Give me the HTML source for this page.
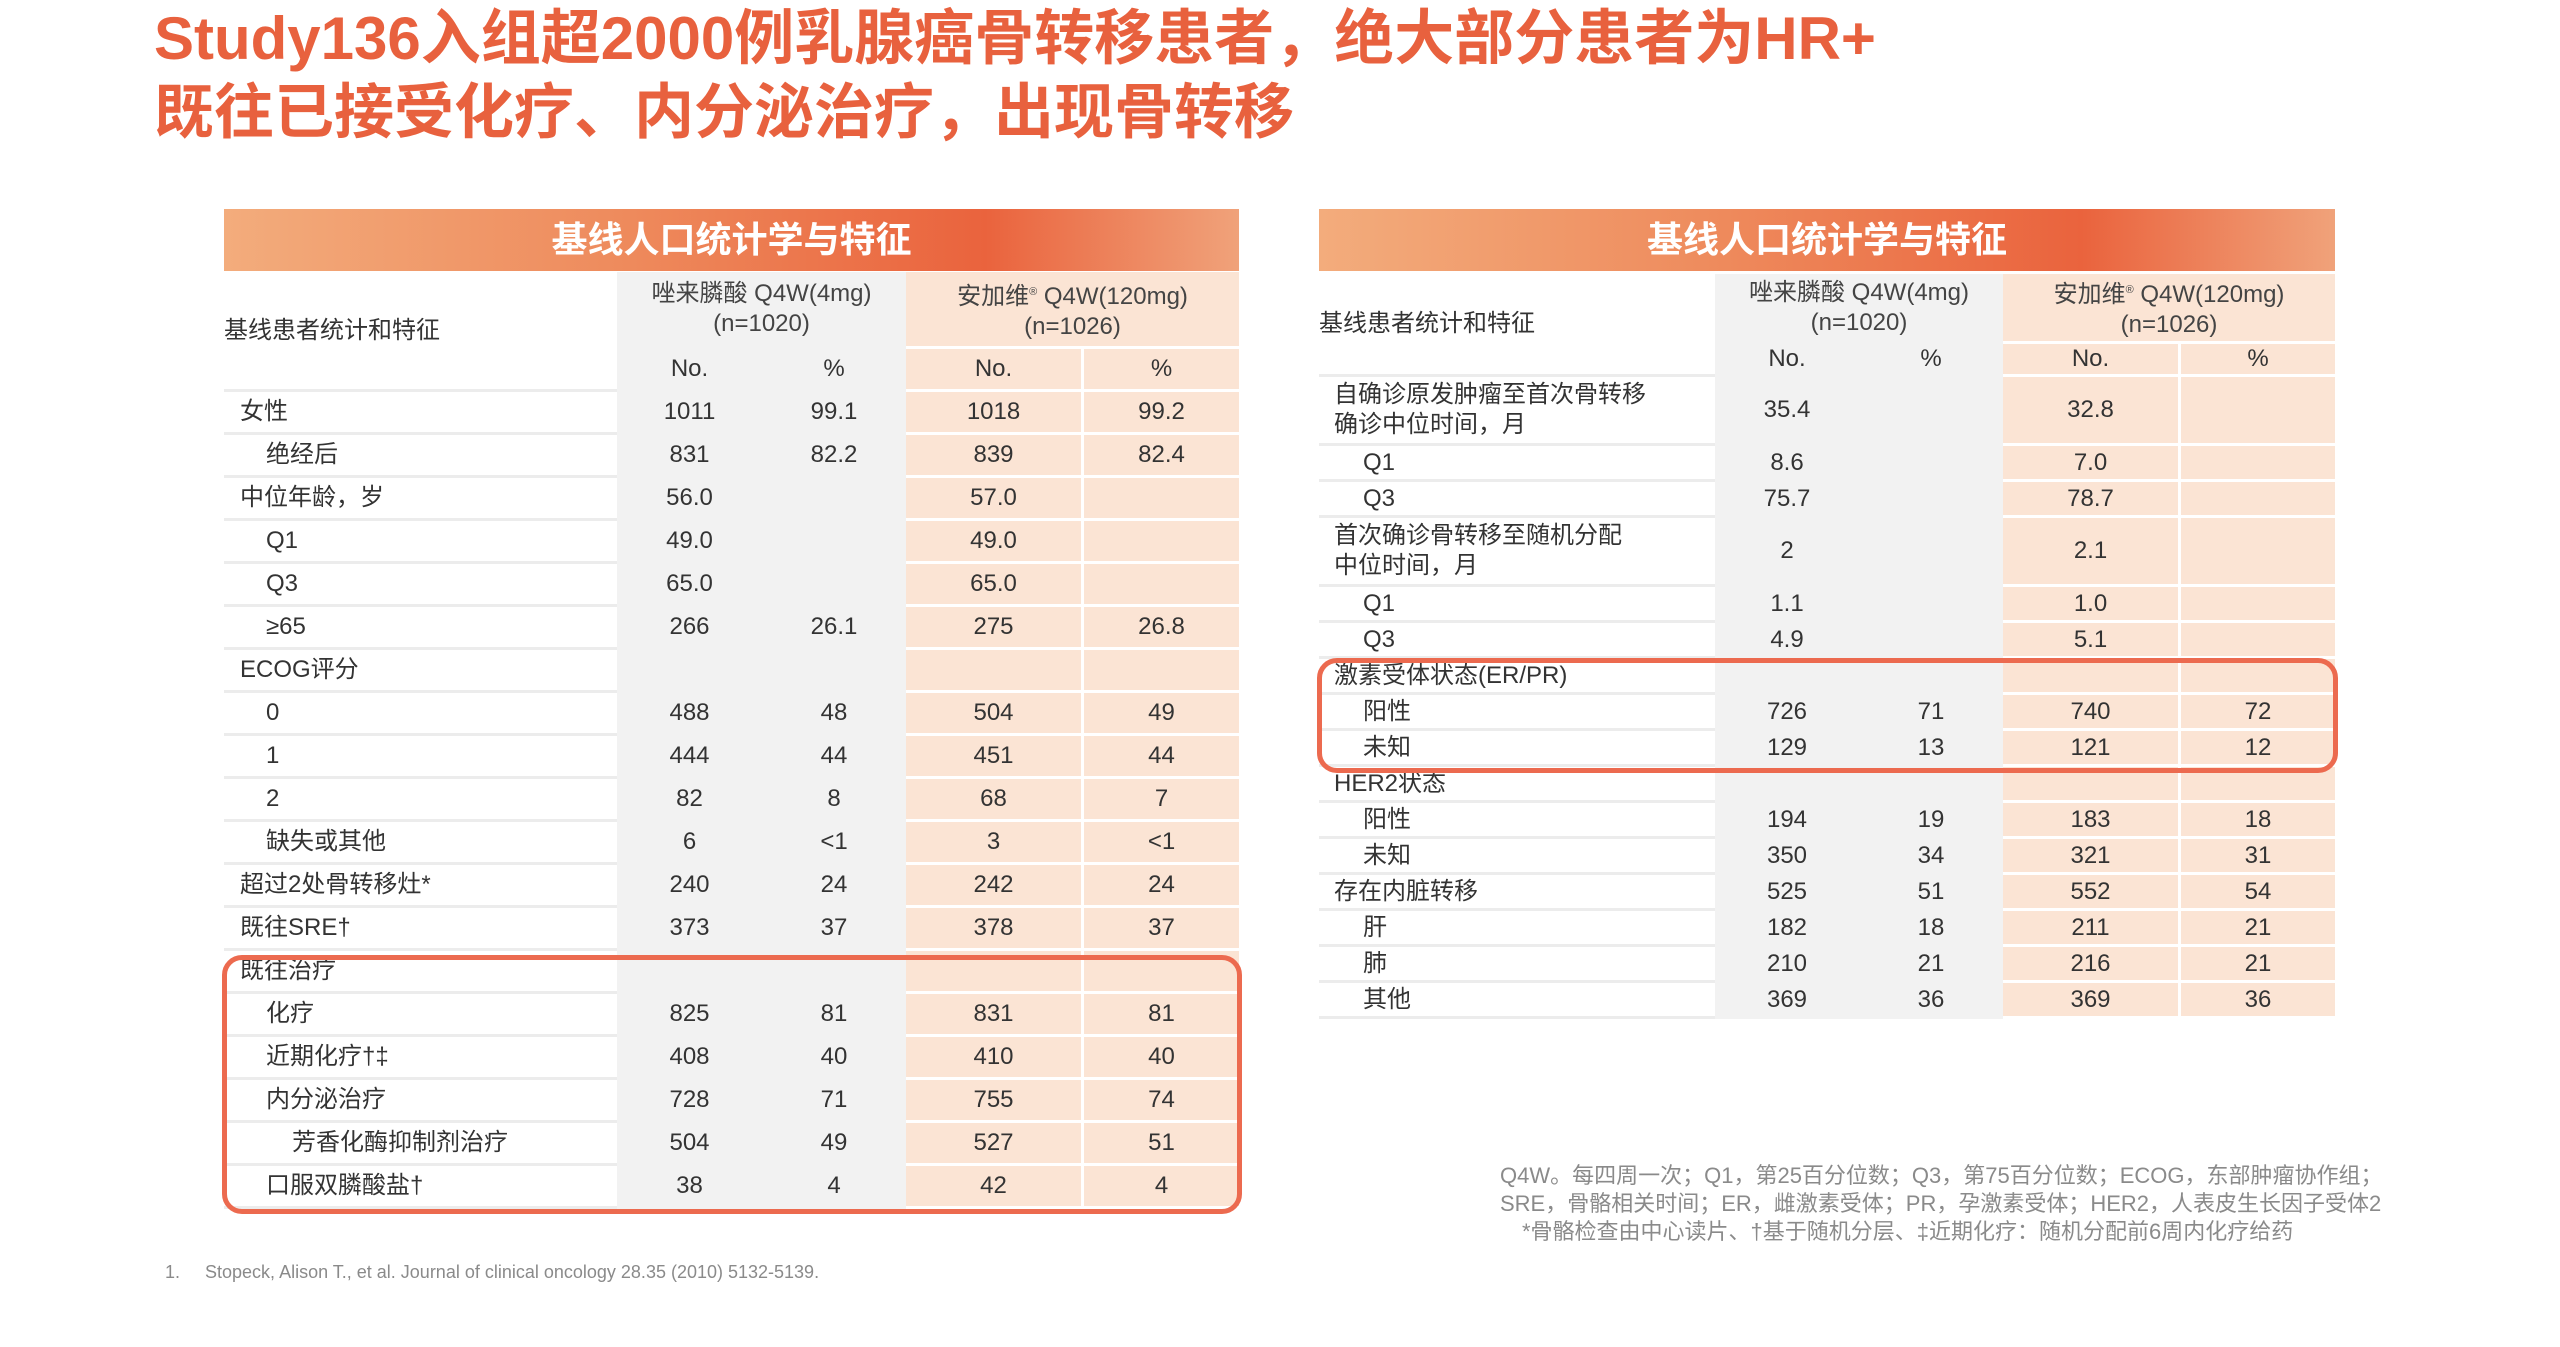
<!DOCTYPE html>
<html><head><meta charset="utf-8">
<style>
*{margin:0;padding:0;box-sizing:border-box}
body{width:2560px;height:1347px;background:#fff;position:relative;overflow:hidden;font-family:"Liberation Sans","Noto Sans CJK SC",sans-serif;color:#333}
.title{position:absolute;left:154px;top:2px;font-size:60px;font-weight:bold;color:#e8613e;line-height:74px;white-space:nowrap}
.band{position:absolute;height:62px;background:linear-gradient(90deg,#f3ac7c 0%,#ee8a5c 40%,#ea633d 75%,#f0a27a 100%);color:#fff;font-size:36px;font-weight:bold;text-align:center;line-height:62px}
table{position:absolute;border-collapse:separate;border-spacing:0;table-layout:fixed;font-size:24px}
td{padding:0;text-align:center;vertical-align:middle;white-space:nowrap;line-height:1}
td.l{text-align:left;background:#fff;border-bottom:3px solid #ececec}
td.g{background:#f2f2f2;border-bottom:3px solid #f2f2f2}
td.p{background:#fbe4d4;border-bottom:3px solid #fff}
td.p2{border-left:3px solid #fff}
.hd{color:#444;line-height:30px !important}
.box{position:absolute;border:5px solid #ec6a4f;border-radius:20px}
.fn{position:absolute;font-size:22px;color:#8a8a8a;white-space:nowrap}
</style></head><body>
<div class="title">Study136入组超2000例乳腺癌骨转移患者，绝大部分患者为HR+<br>既往已接受化疗、内分泌治疗，出现骨转移</div>

<div class="band" style="left:224px;top:209px;width:1015px">基线人口统计学与特征</div>
<table style="left:224px;top:272px;width:1015px">
<colgroup><col style="width:393px"><col style="width:145px"><col style="width:144px"><col style="width:175px"><col style="width:158px"></colgroup>
<tr style="height:77px"><td class="l" rowspan="2">基线患者统计和特征</td><td class="g hd" colspan="2">唑来膦酸 Q4W(4mg)<br>(n=1020)</td><td class="p hd" colspan="2">安加维<sup style="font-size:11px">®</sup> Q4W(120mg)<br>(n=1026)</td></tr>
<tr style="height:43px"><td class="g">No.</td><td class="g">%</td><td class="p">No.</td><td class="p p2">%</td></tr>
<tr style="height:43px"><td class="l" style="padding-left:16px">女性</td><td class="g">1011</td><td class="g">99.1</td><td class="p">1018</td><td class="p p2">99.2</td></tr>
<tr style="height:43px"><td class="l" style="padding-left:42px">绝经后</td><td class="g">831</td><td class="g">82.2</td><td class="p">839</td><td class="p p2">82.4</td></tr>
<tr style="height:43px"><td class="l" style="padding-left:16px">中位年龄，岁</td><td class="g">56.0</td><td class="g"></td><td class="p">57.0</td><td class="p p2"></td></tr>
<tr style="height:43px"><td class="l" style="padding-left:42px">Q1</td><td class="g">49.0</td><td class="g"></td><td class="p">49.0</td><td class="p p2"></td></tr>
<tr style="height:43px"><td class="l" style="padding-left:42px">Q3</td><td class="g">65.0</td><td class="g"></td><td class="p">65.0</td><td class="p p2"></td></tr>
<tr style="height:43px"><td class="l" style="padding-left:42px">≥65</td><td class="g">266</td><td class="g">26.1</td><td class="p">275</td><td class="p p2">26.8</td></tr>
<tr style="height:43px"><td class="l" style="padding-left:16px">ECOG评分</td><td class="g"></td><td class="g"></td><td class="p"></td><td class="p p2"></td></tr>
<tr style="height:43px"><td class="l" style="padding-left:42px">0</td><td class="g">488</td><td class="g">48</td><td class="p">504</td><td class="p p2">49</td></tr>
<tr style="height:43px"><td class="l" style="padding-left:42px">1</td><td class="g">444</td><td class="g">44</td><td class="p">451</td><td class="p p2">44</td></tr>
<tr style="height:43px"><td class="l" style="padding-left:42px">2</td><td class="g">82</td><td class="g">8</td><td class="p">68</td><td class="p p2">7</td></tr>
<tr style="height:43px"><td class="l" style="padding-left:42px">缺失或其他</td><td class="g">6</td><td class="g">&lt;1</td><td class="p">3</td><td class="p p2">&lt;1</td></tr>
<tr style="height:43px"><td class="l" style="padding-left:16px">超过2处骨转移灶*</td><td class="g">240</td><td class="g">24</td><td class="p">242</td><td class="p p2">24</td></tr>
<tr style="height:43px"><td class="l" style="padding-left:16px">既往SRE†</td><td class="g">373</td><td class="g">37</td><td class="p">378</td><td class="p p2">37</td></tr>
<tr style="height:43px"><td class="l" style="padding-left:16px">既往治疗</td><td class="g"></td><td class="g"></td><td class="p"></td><td class="p p2"></td></tr>
<tr style="height:43px"><td class="l" style="padding-left:42px">化疗</td><td class="g">825</td><td class="g">81</td><td class="p">831</td><td class="p p2">81</td></tr>
<tr style="height:43px"><td class="l" style="padding-left:42px">近期化疗†‡</td><td class="g">408</td><td class="g">40</td><td class="p">410</td><td class="p p2">40</td></tr>
<tr style="height:43px"><td class="l" style="padding-left:42px">内分泌治疗</td><td class="g">728</td><td class="g">71</td><td class="p">755</td><td class="p p2">74</td></tr>
<tr style="height:43px"><td class="l" style="padding-left:68px">芳香化酶抑制剂治疗</td><td class="g">504</td><td class="g">49</td><td class="p">527</td><td class="p p2">51</td></tr>
<tr style="height:43px"><td class="l" style="padding-left:42px">口服双膦酸盐†</td><td class="g">38</td><td class="g">4</td><td class="p">42</td><td class="p p2">4</td></tr>
</table>
<div class="box" style="left:222px;top:955px;width:1020px;height:259px"></div>

<div class="band" style="left:1319px;top:209px;width:1016px">基线人口统计学与特征</div>
<table style="left:1319px;top:274px;width:1016px">
<colgroup><col style="width:396px"><col style="width:144px"><col style="width:144px"><col style="width:175px"><col style="width:157px"></colgroup>
<tr style="height:70px"><td class="l" rowspan="2">基线患者统计和特征</td><td class="g hd" colspan="2">唑来膦酸 Q4W(4mg)<br>(n=1020)</td><td class="p hd" colspan="2">安加维<sup style="font-size:11px">®</sup> Q4W(120mg)<br>(n=1026)</td></tr>
<tr style="height:33px"><td class="g">No.</td><td class="g">%</td><td class="p">No.</td><td class="p p2">%</td></tr>
<tr style="height:69px"><td class="l" style="padding-left:15px;line-height:30px">自确诊原发肿瘤至首次骨转移<br>确诊中位时间，月</td><td class="g">35.4</td><td class="g"></td><td class="p">32.8</td><td class="p p2"></td></tr>
<tr style="height:36px"><td class="l" style="padding-left:44px">Q1</td><td class="g">8.6</td><td class="g"></td><td class="p">7.0</td><td class="p p2"></td></tr>
<tr style="height:36px"><td class="l" style="padding-left:44px">Q3</td><td class="g">75.7</td><td class="g"></td><td class="p">78.7</td><td class="p p2"></td></tr>
<tr style="height:69px"><td class="l" style="padding-left:15px;line-height:30px">首次确诊骨转移至随机分配<br>中位时间，月</td><td class="g">2</td><td class="g"></td><td class="p">2.1</td><td class="p p2"></td></tr>
<tr style="height:36px"><td class="l" style="padding-left:44px">Q1</td><td class="g">1.1</td><td class="g"></td><td class="p">1.0</td><td class="p p2"></td></tr>
<tr style="height:36px"><td class="l" style="padding-left:44px">Q3</td><td class="g">4.9</td><td class="g"></td><td class="p">5.1</td><td class="p p2"></td></tr>
<tr style="height:36px"><td class="l" style="padding-left:15px">激素受体状态(ER/PR)</td><td class="g"></td><td class="g"></td><td class="p"></td><td class="p p2"></td></tr>
<tr style="height:36px"><td class="l" style="padding-left:44px">阳性</td><td class="g">726</td><td class="g">71</td><td class="p">740</td><td class="p p2">72</td></tr>
<tr style="height:36px"><td class="l" style="padding-left:44px">未知</td><td class="g">129</td><td class="g">13</td><td class="p">121</td><td class="p p2">12</td></tr>
<tr style="height:36px"><td class="l" style="padding-left:15px">HER2状态</td><td class="g"></td><td class="g"></td><td class="p"></td><td class="p p2"></td></tr>
<tr style="height:36px"><td class="l" style="padding-left:44px">阳性</td><td class="g">194</td><td class="g">19</td><td class="p">183</td><td class="p p2">18</td></tr>
<tr style="height:36px"><td class="l" style="padding-left:44px">未知</td><td class="g">350</td><td class="g">34</td><td class="p">321</td><td class="p p2">31</td></tr>
<tr style="height:36px"><td class="l" style="padding-left:15px">存在内脏转移</td><td class="g">525</td><td class="g">51</td><td class="p">552</td><td class="p p2">54</td></tr>
<tr style="height:36px"><td class="l" style="padding-left:44px">肝</td><td class="g">182</td><td class="g">18</td><td class="p">211</td><td class="p p2">21</td></tr>
<tr style="height:36px"><td class="l" style="padding-left:44px">肺</td><td class="g">210</td><td class="g">21</td><td class="p">216</td><td class="p p2">21</td></tr>
<tr style="height:36px"><td class="l" style="padding-left:44px">其他</td><td class="g">369</td><td class="g">36</td><td class="p">369</td><td class="p p2">36</td></tr>
</table>
<div class="box" style="left:1317px;top:658px;width:1021px;height:115px"></div>

<div class="fn" style="left:1500px;top:1158px">Q4W。每四周一次；Q1，第25百分位数；Q3，第75百分位数；ECOG，东部肿瘤协作组；</div>
<div class="fn" style="left:1500px;top:1186px">SRE，骨骼相关时间；ER，雌激素受体；PR，孕激素受体；HER2，人表皮生长因子受体2</div>
<div class="fn" style="left:1522px;top:1214px">*骨骼检查由中心读片、†基于随机分层、‡近期化疗：随机分配前6周内化疗给药</div>
<div class="fn" style="left:165px;top:1262px;font-size:18px">1.&nbsp;&nbsp;&nbsp;&nbsp;&nbsp;Stopeck, Alison T., et al. Journal of clinical oncology 28.35 (2010) 5132-5139.</div>
</body></html>
